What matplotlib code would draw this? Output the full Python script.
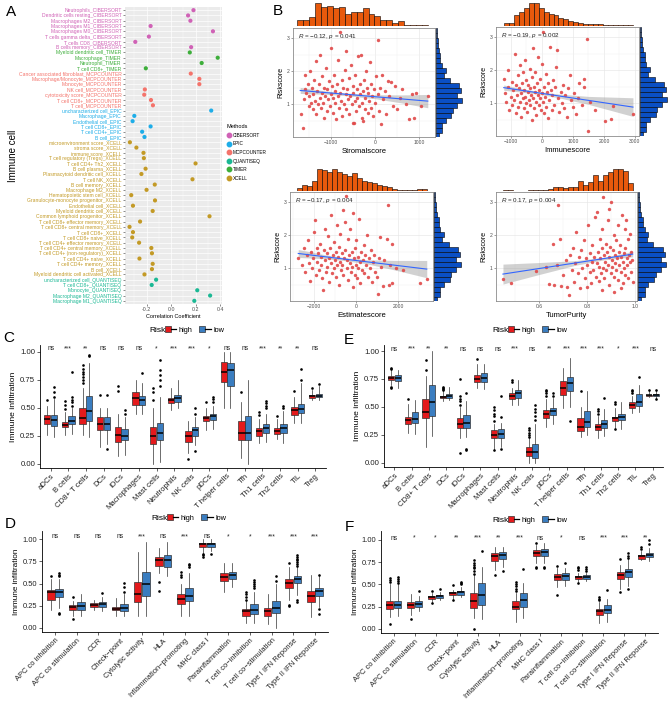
import numpy as np
import matplotlib
matplotlib.use("Agg")
import matplotlib.pyplot as plt
from matplotlib.lines import Line2D
from matplotlib.patches import Patch
from matplotlib.legend_handler import HandlerTuple
from matplotlib.ticker import AutoMinorLocator

plt.rcParams.update({
    "font.family": ["Liberation Sans", "DejaVu Sans"],
    "mathtext.fontset": "custom",
    "mathtext.rm": "Liberation Sans",
    "mathtext.it": "Liberation Sans:italic",
})

W, H = 669, 708
RED, BLUE = "#E41A1C", "#3A7DC0"

# ── A: correlation of risk score with immune cells ──
A_CELLS = [
    "Neutrophils_CIBERSORT", "Dendritic cells resting_CIBERSORT", "Macrophages M2_CIBERSORT",
    "Macrophages M1_CIBERSORT", "Macrophages M0_CIBERSORT", "T cells gamma delta_CIBERSORT",
    "T cells CD8_CIBERSORT", "B cells memory_CIBERSORT", "Myeloid dendritic cell_TIMER",
    "Macrophage_TIMER", "Neutrophil_TIMER", "T cell CD8+_TIMER",
    "Cancer associated fibroblast_MCPCOUNTER", "Macrophage/Monocyte_MCPCOUNTER",
    "Monocyte_MCPCOUNTER", "NK cell_MCPCOUNTER", "cytotoxicity score_MCPCOUNTER",
    "T cell CD8+_MCPCOUNTER", "T cell_MCPCOUNTER", "uncharacterized cell_EPIC",
    "Macrophage_EPIC", "Endothelial cell_EPIC", "T cell CD8+_EPIC", "T cell CD4+_EPIC",
    "B cell_EPIC", "microenvironment score_XCELL", "stroma score_XCELL", "immune score_XCELL",
    "T cell regulatory (Tregs)_XCELL", "T cell CD4+ Th2_XCELL", "B cell plasma_XCELL",
    "Plasmacytoid dendritic cell_XCELL", "T cell NK_XCELL", "B cell memory_XCELL",
    "Macrophage M2_XCELL", "Hematopoietic stem cell_XCELL",
    "Granulocyte-monocyte progenitor_XCELL", "Endothelial cell_XCELL",
    "Myeloid dendritic cell_XCELL", "Common lymphoid progenitor_XCELL",
    "T cell CD8+ effector memory_XCELL", "T cell CD8+ central memory_XCELL",
    "T cell CD8+_XCELL", "T cell CD8+ naive_XCELL", "T cell CD4+ effector memory_XCELL",
    "T cell CD4+ central memory_XCELL", "T cell CD4+ (non-regulatory)_XCELL",
    "T cell CD4+ naive_XCELL", "T cell CD4+ memory_XCELL", "B cell_XCELL",
    "Myeloid dendritic cell activated_XCELL", "uncharacterized cell_QUANTISEQ",
    "T cell CD8+_QUANTISEQ", "Monocyte_QUANTISEQ", "Macrophage M2_QUANTISEQ",
    "Macrophage M1_QUANTISEQ",
]
A_COEF = [
    0.183, 0.139, 0.158, -0.167, 0.342, -0.181, -0.292, 0.164, 0.153, 0.381, 0.25, -0.206,
    0.161, 0.231, 0.231, -0.214, -0.219, -0.164, -0.148, 0.328, -0.30, -0.314, -0.167,
    -0.236, -0.217, -0.336, -0.283, -0.225, -0.222, 0.20, -0.208, -0.242, 0.175, -0.133,
    -0.20, -0.325, -0.131, -0.311, -0.15, 0.314, -0.253, -0.339, -0.311, -0.317, -0.261,
    -0.161, -0.156, -0.258, -0.15, -0.156, -0.217, -0.122, -0.158, 0.214, 0.319, 0.19,
]
METHODS = ["CIBERSORT", "EPIC", "MCPCOUNTER", "QUANTISEQ", "TIMER", "XCELL"]
METHOD_COLORS = ["#D062B6", "#1EADE8", "#F4736B", "#1BB894", "#3DAE3A", "#C39A26"]

# ── B: scatter data (x score, Riskscore) ──
STROMAL_PTS = [
    (-1680, 0.72), (-1640, 0.30), (-1620, 1.15), (-1600, 1.45), (-1580, 1.9), (-1560, 1.35),
    (-1530, 1.6), (-1500, 0.95), (-1490, 1.25), (-1470, 2.0), (-1450, 1.05), (-1430, 1.5),
    (-1420, 0.85), (-1400, 1.3), (-1380, 1.75), (-1360, 1.1), (-1350, 2.3), (-1330, 0.7),
    (-1310, 1.4), (-1300, 1.0), (-1280, 1.6), (-1260, 1.2), (-1250, 2.5), (-1230, 0.9),
    (-1210, 1.35), (-1200, 1.85), (-1180, 1.05), (-1160, 0.6), (-1150, 1.5), (-1130, 1.25),
    (-1110, 2.1), (-1100, 0.8), (-1080, 1.45), (-1060, 1.15), (-1050, 1.7), (-1030, 0.95),
    (-1010, 1.3), (-1000, 2.7), (-980, 1.55), (-960, 0.75), (-950, 1.2), (-930, 1.9),
    (-910, 1.05), (-900, 1.4), (-880, 0.55), (-860, 1.6), (-850, 1.25), (-830, 2.35),
    (-810, 0.9), (-800, 3.19), (-790, 1.35), (-770, 1.1), (-760, 1.75), (-740, 0.65),
    (-720, 1.5), (-700, 1.0), (-690, 2.05), (-670, 1.3), (-660, 2.6), (-650, 0.85),
    (-630, 1.45), (-610, 1.15), (-600, 1.8), (-580, 0.7), (-560, 1.25), (-550, 2.2),
    (-530, 1.0), (-510, 1.55), (-500, 0.45), (-490, 1.35), (-470, 0.44), (-460, 1.9),
    (-450, 1.1), (-430, 0.8), (-410, 1.45), (-400, 1.2), (-380, 2.45), (-370, 0.95),
    (-350, 1.6), (-330, 1.3), (-320, 2.5), (-300, 0.6), (-290, 1.05), (-280, 0.5),
    (-270, 1.4), (-250, 1.75), (-230, 0.85), (-220, 1.2), (-200, 2.0), (-190, 1.5),
    (-170, 0.75), (-150, 1.35), (-130, 1.1), (-110, 2.27), (-100, 0.9), (-80, 1.6),
    (-60, 1.25), (-40, 0.65), (-20, 1.45), (0, 1.05), (30, 1.85), (60, 1.3), (70, 2.94),
    (90, 0.8), (120, 1.5), (140, 0.4), (170, 1.9), (190, 1.15), (220, 1.4), (250, 0.7),
    (290, 1.72), (320, 1.25), (360, 1.66), (400, 0.95), (450, 1.55), (510, 0.86),
    (560, 1.2), (620, 1.45), (700, 1.0), (780, 0.55), (850, 1.3), (890, 0.58), (930, 1.35),
    (1050, 0.95), (1200, 1.25),
]
IMMUNE_PTS = [
    (-1230, 1.73), (-1200, 1.3), (-1150, 1.05), (-1100, 2.0), (-1080, 1.5), (-1050, 0.8),
    (-1000, 1.2), (-980, 1.65), (-950, 0.95), (-920, 1.4), (-900, 1.1), (-870, 2.48),
    (-850, 0.7), (-830, 1.55), (-800, 1.25), (-780, 1.85), (-760, 0.9), (-740, 1.45),
    (-720, 1.05), (-700, 2.15), (-680, 1.3), (-660, 0.6), (-640, 1.6), (-620, 1.15),
    (-600, 1.95), (-590, 0.85), (-570, 1.4), (-550, 1.2), (-530, 2.3), (-510, 1.0),
    (-500, 1.7), (-480, 0.75), (-460, 1.35), (-440, 1.55), (-420, 1.1), (-400, 2.05),
    (-390, 0.95), (-370, 1.45), (-350, 1.25), (-330, 0.5), (-320, 1.8), (-300, 2.67),
    (-290, 1.15), (-270, 1.5), (-250, 0.85), (-230, 1.35), (-210, 1.95), (-200, 1.05),
    (-180, 0.65), (-160, 1.6), (-140, 1.25), (-120, 2.4), (-100, 0.95), (-90, 1.4),
    (-70, 1.15), (-50, 1.75), (-30, 0.8), (-10, 1.3), (0, 2.2), (30, 3.15), (40, 1.05),
    (60, 1.5), (80, 0.7), (100, 1.2), (120, 1.9), (140, 0.9), (160, 1.35), (190, 0.55),
    (210, 1.6), (240, 1.1), (260, 2.7), (290, 1.4), (310, 0.8), (340, 1.25), (370, 1.7),
    (400, 0.95), (430, 1.5), (460, 2.1), (500, 2.6), (520, 1.15), (560, 0.75), (600, 1.35),
    (640, 1.0), (680, 1.55), (720, 0.85), (760, 1.25), (800, 0.6), (850, 1.45), (900, 1.85),
    (950, 1.1), (1000, 0.9), (1050, 1.3), (1100, 0.68), (1150, 1.15), (1200, 1.6),
    (1300, 0.95), (1350, 1.75), (1360, 1.5), (1450, 2.94), (1480, 0.18), (1550, 1.05),
    (1700, 0.8), (2030, 0.46), (2240, 0.53), (2300, 0.92), (2935, 0.67),
]
ESTIMATE_PTS = [
    (-2750, 1.3), (-2590, 1.1), (-2500, 1.6), (-2420, 0.9), (-2350, 1.4), (-2300, 1.85),
    (-2250, 1.15), (-2200, 0.62), (-2150, 1.5), (-2100, 1.0), (-2050, 1.3), (-2000, 2.1),
    (-1950, 2.47), (-1920, 0.8), (-1880, 1.6), (-1850, 1.2), (-1800, 1.45), (-1760, 0.95),
    (-1720, 1.75), (-1680, 1.1), (-1650, 1.35), (-1600, 0.7), (-1570, 0.36), (-1540, 1.55),
    (-1500, 1.25), (-1470, 2.2), (-1440, 0.9), (-1400, 1.45), (-1370, 1.05), (-1330, 1.98),
    (-1300, 1.3), (-1270, 0.6), (-1240, 1.6), (-1200, 1.15), (-1170, 2.6), (-1140, 0.85),
    (-1100, 1.4), (-1070, 1.0), (-1040, 1.8), (-1000, 1.25), (-970, 0.75), (-940, 1.5),
    (-920, 2.32), (-890, 1.1), (-860, 1.35), (-830, 0.5), (-800, 1.65), (-770, 1.2),
    (-740, 2.05), (-710, 0.95), (-680, 1.45), (-650, 1.1), (-620, 2.75), (-600, 0.8),
    (-570, 1.3), (-540, 2.4), (-510, 1.55), (-476, 3.18), (-450, 1.0), (-420, 1.25),
    (-390, 1.9), (-360, 0.65), (-330, 1.4), (-300, 1.15), (-270, 2.2), (-240, 0.9),
    (-210, 1.5), (-180, 1.05), (-150, 0.45), (-127, 2.67), (-100, 1.3), (-70, 0.8),
    (-40, 1.6), (-10, 1.1), (20, 1.85), (50, 0.7), (80, 1.35), (110, 1.0), (140, 2.5),
    (170, 1.2), (200, 0.55), (240, 1.5), (280, 0.95), (320, 1.25), (360, 1.7), (400, 0.85),
    (440, 1.4), (480, 1.1), (520, 2.0), (560, 0.75), (600, 1.3), (650, 1.0), (700, 1.55),
    (760, 0.6), (800, 1.2), (850, 1.4), (900, 0.9), (980, 0.75), (1060, 0.22), (1100, 1.3),
    (1140, 1.95), (1200, 1.05), (1300, 0.47), (1350, 1.25), (1460, 1.88), (1520, 2.9),
    (1550, 0.51), (1600, 1.1), (1700, 0.57), (1700, 1.74), (1900, 1.0), (2250, 0.95),
    (3050, 0.57), (3370, 0.68),
]
PURITY_PTS = [
    (0.449, 0.68), (0.482, 0.56), (0.587, 0.92), (0.63, 1.05), (0.64, 0.52), (0.657, 1.73),
    (0.66, 0.5), (0.673, 1.1), (0.68, 2.9), (0.687, 1.9), (0.69, 0.48), (0.70, 0.8),
    (0.71, 1.25), (0.715, 0.45), (0.725, 0.21), (0.73, 1.4), (0.735, 0.95), (0.74, 1.6),
    (0.745, 0.6), (0.75, 1.15), (0.755, 2.1), (0.76, 0.85), (0.765, 1.35), (0.77, 0.4),
    (0.775, 1.55), (0.78, 1.0), (0.785, 1.85), (0.79, 0.7), (0.795, 1.3), (0.80, 1.1),
    (0.805, 2.3), (0.81, 0.9), (0.812, 1.45), (0.815, 0.55), (0.82, 1.2), (0.822, 1.7),
    (0.825, 0.95), (0.83, 1.35), (0.832, 2.55), (0.835, 0.75), (0.84, 2.7), (0.842, 1.15),
    (0.845, 1.5), (0.848, 0.62), (0.85, 1.05), (0.852, 1.9), (0.855, 1.3), (0.858, 0.85),
    (0.86, 1.6), (0.862, 2.2), (0.865, 1.0), (0.868, 3.16), (0.87, 1.4), (0.872, 0.7),
    (0.875, 1.2), (0.878, 1.75), (0.88, 0.95), (0.882, 1.5), (0.885, 2.45), (0.888, 1.1),
    (0.89, 0.5), (0.892, 1.35), (0.895, 1.65), (0.898, 0.85), (0.90, 3.0), (0.902, 1.25),
    (0.905, 1.05), (0.908, 1.55), (0.91, 2.0), (0.912, 0.75), (0.915, 1.4), (0.918, 1.15),
    (0.92, 1.85), (0.922, 0.95), (0.925, 1.3), (0.928, 2.3), (0.93, 0.65), (0.932, 1.5),
    (0.935, 1.1), (0.938, 1.7), (0.94, 0.9), (0.942, 1.35), (0.945, 2.6), (0.948, 1.2),
    (0.95, 0.55), (0.952, 1.45), (0.955, 1.0), (0.958, 1.6), (0.96, 0.8), (0.962, 2.47),
    (0.965, 1.3), (0.968, 1.1), (0.97, 1.9), (0.972, 0.7), (0.975, 1.4), (0.978, 1.2),
    (0.98, 2.05), (0.982, 0.9), (0.985, 1.5), (0.988, 1.25), (0.99, 0.6), (0.86, 0.35),
    (0.91, 0.3), (0.89, 2.8), (0.96, 2.2), (0.80, 0.45), (0.94, 0.4),
]
# marginal histogram counts (top: x score, right: Riskscore 0–3.3 in 0.15 bins)
STROMAL_HIST = [7, 8, 11, 28, 24, 25, 22, 24, 15, 17, 18, 22, 15, 13, 7, 7, 4, 6, 1, 1, 1, 1]
IMMUNE_HIST = [4, 4, 15, 19, 24, 30, 30, 24, 19, 16, 15, 11, 9, 6, 5, 4, 2, 2, 2, 2, 1, 1, 1, 1, 1, 1]
ESTIMATE_HIST = [4, 8, 6, 13, 28, 27, 25, 28, 25, 22, 19, 23, 17, 13, 12, 10, 8, 6, 5, 3, 1, 1, 1, 1, 2, 2]
PURITY_HIST = [1, 1, 0, 0, 0, 1, 1, 2, 2, 3, 5, 5, 4, 5, 6, 14, 9, 13, 22, 14, 22, 26, 30, 30, 28, 11]
RISK_HIST = [3, 7, 7, 11, 17, 19, 24, 30, 24, 28, 26, 16, 9, 11, 7, 5, 5, 3, 2, 2, 1, 1]

# fitted lines and 95% bands
STROMAL_FIT = ([-1700, 1200], [1.42, 1.10])
STROMAL_BAND = ([-1700, -1100, -600, 0, 600, 1200], [0.09, 0.05, 0.04, 0.06, 0.12, 0.2])
IMMUNE_FIT = ([-1230, 2935], [1.475, 0.89])
IMMUNE_BAND = ([-1230, -600, 0, 600, 1500, 2935], [0.08, 0.05, 0.04, 0.06, 0.12, 0.28])
ESTIMATE_FIT = ([-2750, 3370], [1.45, 0.98])
ESTIMATE_BAND = ([-2750, -1500, -600, 500, 1800, 3370], [0.12, 0.06, 0.045, 0.06, 0.14, 0.26])
PURITY_FIT = ([0.449, 0.99], [0.83, 1.43])
PURITY_BAND = ([0.449, 0.6, 0.75, 0.87, 0.99], [0.3, 0.18, 0.07, 0.04, 0.08])

# ── C / E: immune cells; D / F: immune functions ──
CELL_CATS = ["aDCs", "B cells", "CD8+ T cells", "DCs", "iDCs", "Macrophages", "Mast cells",
             "Neutrophils", "NK cells", "pDCs", "T helper cells", "Tfh", "Th1 cells",
             "Th2 cells", "TIL", "Treg"]
FUNC_CATS = ["APC co inhibition", "APC co stimulation", "CCR", "Check\u2212point",
             "Cytolytic activity", "HLA", "Inflammation\u2212promoting", "MHC class I",
             "Parainflammation", "T cell co\u2212inhibition", "T cell co\u2212stimulation",
             "Type I IFN Reponse", "Type II IFN Reponse"]

C_HIGH = dict(
    lo=[0.26, 0.26, 0.26, 0.155, 0.075, 0.45, 0.0, 0.48, 0.095, 0.30, 0.5, 0.05, 0.185, 0.22, 0.365, 0.57],
    q1=[0.355, 0.33, 0.36, 0.30, 0.20, 0.527, 0.18, 0.54, 0.20, 0.386, 0.735, 0.21, 0.25, 0.27, 0.44, 0.59],
    med=[0.405, 0.35, 0.41, 0.357, 0.259, 0.592, 0.25, 0.57, 0.25, 0.41, 0.82, 0.28, 0.29, 0.295, 0.482, 0.61],
    q3=[0.44, 0.378, 0.496, 0.42, 0.33, 0.646, 0.333, 0.59, 0.29, 0.43, 0.913, 0.38, 0.318, 0.318, 0.51, 0.62],
    hi=[0.52, 0.46, 0.68, 0.5, 0.45, 0.75, 0.5, 0.68, 0.38, 0.5, 1.0, 0.55, 0.4, 0.4, 0.6, 0.66],
)
C_HIGH_OUT = [[0.57], [0.49, 0.53, 0.56], [0.72, 0.75, 0.78, 0.8, 0.82, 0.85, 0.88], [0.62],
              [0.65, 0.7], [], [0.57, 0.64, 0.68], [], [0.04], [0.55], [], [0.64], [0.44, 0.46],
              [0.43], [0.65], [0.68]]
C_LOW = dict(
    lo=[0.24, 0.27, 0.24, 0.18, 0.08, 0.45, 0.02, 0.5, 0.17, 0.31, 0.5, 0.0, 0.2, 0.185, 0.37, 0.57],
    q1=[0.34, 0.36, 0.38, 0.30, 0.21, 0.527, 0.214, 0.55, 0.25, 0.39, 0.70, 0.21, 0.274, 0.274, 0.452, 0.595],
    med=[0.395, 0.386, 0.47, 0.357, 0.25, 0.57, 0.28, 0.59, 0.30, 0.43, 0.835, 0.28, 0.318, 0.32, 0.495, 0.61],
    q3=[0.44, 0.43, 0.61, 0.42, 0.31, 0.61, 0.363, 0.62, 0.33, 0.45, 0.9, 0.43, 0.357, 0.357, 0.535, 0.625],
    hi=[0.58, 0.5, 0.9, 0.5, 0.42, 0.72, 0.6, 0.75, 0.42, 0.52, 1.0, 0.75, 0.45, 0.47, 0.72, 0.7],
)
C_LOW_OUT = [[0.6, 0.64, 0.69], [0.52, 0.55, 0.57, 0.6, 0.82], [0.96, 0.97], [0.13, 0.62],
             [0.45, 0.48], [0.81], [0.7, 0.75, 0.79, 0.84, 0.93], [], [0.115, 0.45, 0.5],
             [0.55, 0.58, 0.6], [], [], [0.5, 0.52, 0.54, 0.56], [0.5, 0.52], [0.75, 0.85], [0.71]]
C_SIG = ["ns", "***", "**", "ns", "ns", "ns", "*", "***", "***", "*", "ns", "ns", "***", "**", "**", "ns"]

D_HIGH = dict(
    lo=[0.205, 0.14, 0.2, 0.13, 0.14, 0.615, 0.14, 0.84, 0.41, 0.055, 0.05, 0.31, 0.12],
    q1=[0.32, 0.205, 0.24, 0.198, 0.29, 0.70, 0.27, 0.915, 0.533, 0.14, 0.14, 0.455, 0.29],
    med=[0.40, 0.235, 0.26, 0.215, 0.385, 0.765, 0.33, 0.94, 0.575, 0.193, 0.196, 0.51, 0.36],
    q3=[0.43, 0.26, 0.28, 0.24, 0.52, 0.80, 0.38, 0.95, 0.614, 0.212, 0.23, 0.55, 0.418],
    hi=[0.55, 0.3, 0.32, 0.34, 0.85, 0.9, 0.5, 1.0, 0.73, 0.3, 0.38, 0.68, 0.6],
)
D_HIGH_OUT = [[0.585], [0.1, 0.35], [], [], [], [0.42, 0.52], [0.575, 0.6, 0.63], [0.8, 0.82, 0.83],
              [], [0.32, 0.35, 0.38, 0.41], [], [0.25, 0.26, 0.73], []]
D_LOW = dict(
    lo=[0.22, 0.13, 0.19, 0.14, 0.14, 0.58, 0.13, 0.86, 0.46, 0.06, 0.0, 0.37, 0.24],
    q1=[0.346, 0.20, 0.24, 0.195, 0.365, 0.683, 0.305, 0.915, 0.55, 0.16, 0.167, 0.505, 0.365],
    med=[0.40, 0.25, 0.27, 0.23, 0.49, 0.765, 0.365, 0.94, 0.6, 0.205, 0.224, 0.548, 0.418],
    q3=[0.436, 0.29, 0.293, 0.27, 0.63, 0.82, 0.455, 0.96, 0.63, 0.27, 0.30, 0.585, 0.447],
    hi=[0.55, 0.38, 0.35, 0.38, 0.97, 0.97, 0.62, 1.0, 0.735, 0.4, 0.5, 0.68, 0.585],
)
D_LOW_OUT = [[0.16, 0.17, 0.58, 0.6, 0.62], [], [0.39], [0.41, 0.46, 0.51], [], [], [0.68, 0.71, 0.72],
             [0.83], [], [0.45, 0.47, 0.5, 0.52, 0.54], [0.53, 0.58],
             [0.29, 0.32, 0.7, 0.72, 0.74, 0.76, 0.78, 0.8, 0.82], [0.16, 0.21, 0.59]]
D_SIG = ["ns", "ns", "ns", "ns", "***", "ns", "***", "ns", "*", "*", "***", "***", "***"]

E_HIGH = dict(
    lo=[0.70, 0.27, 0.14, 0.555, 0.22, 0.665, 0.115, 0.52, 0.0, 0.32, 0.49, 0.233, 0.22, 0.308, 0.448, 0.59],
    q1=[0.74, 0.343, 0.397, 0.583, 0.313, 0.725, 0.22, 0.573, 0.06, 0.405, 0.605, 0.283, 0.292, 0.376, 0.49, 0.597],
    med=[0.755, 0.38, 0.457, 0.59, 0.35, 0.75, 0.248, 0.597, 0.1, 0.44, 0.665, 0.322, 0.322, 0.397, 0.516, 0.605],
    q3=[0.776, 0.41, 0.57, 0.60, 0.405, 0.785, 0.29, 0.62, 0.145, 0.47, 0.73, 0.397, 0.343, 0.41, 0.54, 0.61],
    hi=[0.83, 0.53, 0.78, 0.64, 0.5, 0.88, 0.35, 0.67, 0.22, 0.57, 0.85, 0.5, 0.42, 0.49, 0.6, 0.64],
)
E_HIGH_OUT = [[0.67, 0.68, 0.84, 0.85], [0.57], [0.83, 0.92], [0.65, 0.66, 0.67, 0.68],
              [0.085, 0.52, 0.55, 0.57, 0.6, 0.75], [0.93], [0.11, 0.37, 0.42, 0.44, 0.47, 0.5],
              [0.72, 0.74], [0.23, 0.25, 0.27, 0.29, 0.31], [0.6, 0.62, 0.64, 0.65], [], [0.64],
              [0.44, 0.46, 0.48], [0.3, 0.53, 0.54], [0.62, 0.64, 0.65], [0.65]]
E_LOW = dict(
    lo=[0.665, 0.26, 0.24, 0.56, 0.227, 0.656, 0.14, 0.515, 0.0, 0.35, 0.5, 0.248, 0.235, 0.3, 0.457, 0.575],
    q1=[0.735, 0.358, 0.418, 0.583, 0.313, 0.72, 0.225, 0.583, 0.047, 0.426, 0.64, 0.322, 0.313, 0.38, 0.507, 0.597],
    med=[0.76, 0.396, 0.54, 0.60, 0.357, 0.763, 0.26, 0.62, 0.1, 0.46, 0.716, 0.367, 0.35, 0.41, 0.546, 0.605],
    q3=[0.785, 0.45, 0.70, 0.611, 0.426, 0.8, 0.305, 0.65, 0.165, 0.49, 0.77, 0.46, 0.387, 0.435, 0.611, 0.611],
    hi=[0.826, 0.56, 1.0, 0.68, 0.55, 0.88, 0.36, 0.74, 0.35, 0.58, 0.94, 0.64, 0.48, 0.54, 0.7, 0.64],
)
E_LOW_OUT = [[], [], [], [], [0.11, 0.12, 0.62], [], [0.12, 0.41, 0.6], [], [0.38, 0.42, 0.45, 0.48, 0.52],
             [0.6, 0.62], [0.37], [], [0.58], [], [0.77], [0.57, 0.65]]
E_SIG = ["ns", "***", "**", "**", "ns", "ns", "ns", "***", "ns", "**", "***", "***", "***", "*", "***", "ns"]

F_HIGH = dict(
    lo=[0.13, 0.157, 0.3, 0.34, 0.12, 0.66, 0.08, 0.74, 0.47, 0.53, 0.064, 0.45, 0.77],
    q1=[0.225, 0.232, 0.334, 0.375, 0.232, 0.757, 0.22, 0.82, 0.544, 0.56, 0.15, 0.56, 0.787],
    med=[0.263, 0.263, 0.356, 0.4, 0.307, 0.814, 0.25, 0.858, 0.578, 0.578, 0.195, 0.6, 0.814],
    q3=[0.315, 0.296, 0.371, 0.416, 0.4, 0.85, 0.307, 0.89, 0.614, 0.596, 0.225, 0.633, 0.832],
    hi=[0.5, 0.39, 0.4, 0.44, 0.6, 0.92, 0.4, 0.94, 0.68, 0.63, 0.3, 0.72, 0.88],
)
F_HIGH_OUT = [[0.05, 0.53, 0.55, 0.57], [0.11], [0.29, 0.43], [0.32, 0.49],
              [0.0, 0.62, 0.65, 0.68, 0.7, 0.72, 0.74, 0.77], [0.61], [0.42, 0.45, 0.48, 0.5, 0.53],
              [0.68, 0.7, 0.97], [0.38, 0.71], [0.51, 0.66, 0.68, 0.7], [0.32, 0.34, 0.36],
              [0.41, 0.78], [0.9, 0.92]]
F_LOW = dict(
    lo=[0.14, 0.195, 0.32, 0.36, 0.11, 0.7, 0.12, 0.74, 0.48, 0.54, 0.08, 0.48, 0.76],
    q1=[0.232, 0.25, 0.345, 0.382, 0.27, 0.787, 0.25, 0.82, 0.55, 0.563, 0.176, 0.58, 0.802],
    med=[0.27, 0.277, 0.364, 0.41, 0.382, 0.833, 0.326, 0.862, 0.596, 0.585, 0.214, 0.633, 0.832],
    q3=[0.307, 0.307, 0.382, 0.423, 0.514, 0.86, 0.4, 0.895, 0.626, 0.604, 0.27, 0.67, 0.858],
    hi=[0.5, 0.37, 0.41, 0.47, 0.69, 0.92, 0.52, 0.97, 0.68, 0.63, 0.33, 0.78, 0.91],
)
F_LOW_OUT = [[0.52, 0.54, 0.56, 0.58], [0.42], [0.45], [0.5, 0.52, 0.53], [0.88], [0.65], [0.67],
             [0.68, 0.7], [0.74], [0.65, 0.67, 0.69], [0.44], [0.45, 0.8, 0.82, 0.85], [0.95, 1.0]]
F_SIG = ["ns", "*", "*", "**", "***", "**", "***", "ns", "*", "ns", "***", "***", "**"]


fig = plt.figure(figsize=(W / 100, H / 100), dpi=100)


def px_axes(left, top, right, bottom):
    """axes placed by pixel box of the 669x708 canvas"""
    return fig.add_axes([left / W, 1 - bottom / H, (right - left) / W, (bottom - top) / H])


def letter(x, y, s):
    fig.text(x / W, 1 - y / H, s, fontsize=11, ha="center", va="center")


# ================================================================
# A
# ================================================================
ax = px_axes(125, 7, 222, 304)
ax.set_facecolor("#EBEBEB")
rows = np.arange(len(A_CELLS))
method_of = [c.rsplit("_", 1)[1] for c in A_CELLS]
cmap = dict(zip(METHODS, METHOD_COLORS))
ax.scatter(A_COEF, rows, s=9, c=[cmap[m] for m in method_of], linewidths=0, zorder=3)
ax.set_ylim(len(A_CELLS) - 0.4, -0.6)
ax.set_xlim(-0.376, 0.416)
ax.set_yticks(rows)
ax.set_yticklabels(A_CELLS, fontsize=3.6)
for lab, m in zip(ax.get_yticklabels(), method_of):
    lab.set_color(cmap[m])
ax.set_xticks([-0.2, 0.0, 0.2, 0.4])
ax.set_xticklabels(["-0.2", "0.0", "0.2", "0.4"], fontsize=3.8, color="#4D4D4D")
ax.xaxis.set_minor_locator(AutoMinorLocator(2))
ax.grid(True, which="major", color="white", lw=0.5)
ax.grid(True, which="minor", axis="x", color="white", lw=0.25)
ax.set_axisbelow(True)
for s in ax.spines.values():
    s.set_visible(False)
ax.tick_params(length=1.5, width=0.4, color="#333333", pad=1)
ax.tick_params(which="minor", length=0)
ax.set_xlabel("Correlation Coefficient", fontsize=4, labelpad=1)
ax.set_ylabel("Immune cell", fontsize=7)
ax.yaxis.set_label_coords(-1.10, 0.5)
handles = [Line2D([0], [0], marker="o", ls="", color=c, markersize=3.2) for c in METHOD_COLORS]
leg = ax.legend(handles, METHODS, title="Methods", loc="upper left",
                bbox_to_anchor=(224 / W, 1 - 122 / H), bbox_transform=fig.transFigure,
                frameon=False, fontsize=3.4, title_fontsize=4, labelspacing=0.75,
                handletextpad=0.2, handlelength=1.2, borderpad=0)
leg._legend_box.align = "left"
letter(11, 12, "A")


# ================================================================
# B
# ================================================================
def scatter_panel(box, top_box, right_box, pts, xlim, xticks, xticklabels, xlabel,
                  fit, band, top_counts, top_range, stat):
    l, t, r, b = box
    ylim = (0.02, 3.3)
    ax = px_axes(l, t, r, b)
    xs = [p[0] for p in pts]
    ys = [p[1] for p in pts]
    bx = np.array(band[0], dtype=float)
    bhw = np.array(band[1])
    mid = np.interp(bx, fit[0], fit[1])
    ax.fill_between(bx, mid - bhw, mid + bhw, color="#9A9A9A", alpha=0.45, lw=0, zorder=2)
    ax.scatter(xs, ys, s=6, color="#E04848", alpha=0.9, linewidths=0, zorder=3)
    ax.plot(fit[0], fit[1], color="#3366FF", lw=0.8, zorder=4)
    ax.set_xlim(xlim)
    ax.set_ylim(ylim)
    ax.set_xticks(xticks)
    ax.set_xticklabels(xticklabels)
    ax.set_yticks([1, 2, 3])
    ax.xaxis.set_minor_locator(AutoMinorLocator(2))
    ax.yaxis.set_minor_locator(AutoMinorLocator(2))
    ax.grid(True, which="major", color="#E6E6E6", lw=0.45)
    ax.grid(True, which="minor", color="#F0F0F0", lw=0.3)
    ax.set_axisbelow(True)
    for s in ax.spines.values():
        s.set_color("#8C8C8C")
        s.set_linewidth(0.6)
    ax.tick_params(labelsize=3.6, length=1.5, width=0.4, color="#555555",
                   labelcolor="#4D4D4D", pad=1)
    ax.tick_params(which="minor", length=0)
    ax.set_xlabel(xlabel, fontsize=5.5, labelpad=1.5)
    ax.set_ylabel("Riskscore", fontsize=5, labelpad=2)
    ax.text(0.035, 0.925, stat, transform=ax.transAxes, fontsize=4.5, va="center", ha="left",
            color="#222222")

    # marginal histogram on top
    at = px_axes(l, top_box[0], r, top_box[1])
    edges = np.linspace(top_range[0], top_range[1], len(top_counts) + 1)
    at.bar(edges[:-1], top_counts, width=np.diff(edges), align="edge",
           color="#E8590C", edgecolor="black", lw=0.4)
    at.set_xlim(xlim)
    at.set_ylim(0, max(top_counts) * 1.02)
    at.axis("off")

    # marginal histogram on the right
    ar = px_axes(right_box[0], t, right_box[1], b)
    redges = np.linspace(0.0, 3.3, len(RISK_HIST) + 1)
    ar.barh(redges[:-1], RISK_HIST, height=np.diff(redges), align="edge",
            color="#0A4FC4", edgecolor="black", lw=0.4)
    ar.set_ylim(ylim)
    ar.set_xlim(0, max(RISK_HIST) * 1.02)
    ar.axis("off")


MINUS = "\u2212"
scatter_panel((293, 28, 435, 137), (3, 26), (436, 463), STROMAL_PTS, (-1864, 1364),
              [-1000, 0, 1000], [MINUS + "1000", "0", "1000"], "Stromalscore",
              STROMAL_FIT, STROMAL_BAND, STROMAL_HIST, (-1770, 1205),
              r"$R$ = " + MINUS + r"0.12, $p$ = 0.041")
scatter_panel((496, 27, 639, 136), (3, 26), (640, 668), IMMUNE_PTS, (-1480, 3130),
              [-1000, 0, 1000, 2000, 3000], [MINUS + "1000", "0", "1000", "2000", "3000"],
              "Immunescore", IMMUNE_FIT, IMMUNE_BAND, IMMUNE_HIST, (-1226, 2935),
              r"$R$ = " + MINUS + r"0.19, $p$ = 0.002")
scatter_panel((290, 192, 433, 301), (169, 191), (434, 462), ESTIMATE_PTS, (-3143, 3667),
              [-2000, 0, 2000], [MINUS + "2000", "0", "2000"], "Estimatescore",
              ESTIMATE_FIT, ESTIMATE_BAND, ESTIMATE_HIST, (-2810, 3380),
              r"$R$ = " + MINUS + r"0.17, $p$ = 0.004")
scatter_panel((496, 192, 637, 301), (169, 191), (638, 667), PURITY_PTS, (0.42, 1.008),
              [0.6, 0.8, 1.0], ["0.6", "0.8", "1.0"], "TumorPurity",
              PURITY_FIT, PURITY_BAND, PURITY_HIST, (0.45, 0.992),
              r"$R$ = 0.17, $p$ = 0.004")
letter(278, 11, "B")


# ================================================================
# C - F boxplots
# ================================================================
def box_panel(box, cats, high, high_out, low, low_out, sig, ylim, sig_y, risk_xy, fs):
    l, t, r, b = box
    ax = px_axes(l, t, r, b)
    pos = np.arange(1, len(cats) + 1)
    for d, outs, off, col in ((high, high_out, -0.19, RED), (low, low_out, 0.19, BLUE)):
        stats = [dict(whislo=d["lo"][i], q1=d["q1"][i], med=d["med"][i], q3=d["q3"][i],
                      whishi=d["hi"][i], fliers=outs[i]) for i in range(len(cats))]
        ax.bxp(stats, positions=pos + off, widths=0.36, patch_artist=True, showcaps=False,
               manage_ticks=False,
               boxprops=dict(facecolor=col, edgecolor="#333333", linewidth=0.5),
               whiskerprops=dict(color="#333333", linewidth=0.5),
               medianprops=dict(color="black", linewidth=1.1),
               flierprops=dict(marker="o", markerfacecolor="black", markeredgecolor="none",
                               markersize=1.9))
    for x, s in zip(pos, sig):
        ax.text(x, sig_y, s, ha="center", va="center", fontsize=4.8, color="#222222")
    ax.set_xlim(0.4, len(cats) + 0.6)
    ax.set_ylim(ylim)
    ax.set_yticks([0, 0.25, 0.5, 0.75, 1.0])
    ax.set_yticklabels(["0.00", "0.25", "0.50", "0.75", "1.00"], fontsize=fs)
    ax.set_xticks(pos)
    ax.set_xticklabels(cats, rotation=45, ha="right", rotation_mode="anchor", fontsize=fs)
    for s in ("top", "right"):
        ax.spines[s].set_visible(False)
    for s in ("left", "bottom"):
        ax.spines[s].set_linewidth(0.6)
    ax.tick_params(length=2, width=0.5, pad=1.5, colors="#222222")
    ax.set_ylabel("Immune infiltration", fontsize=fs + 0.5, labelpad=2)

    rx, ry = risk_xy
    fig.text(rx / W, 1 - ry / H, "Risk", fontsize=6, ha="left", va="center")
    hs = [(Patch(facecolor=col, edgecolor="#333333", lw=0.5),
           Line2D([0], [0], color="black", lw=0.9)) for col in (RED, BLUE)]
    fig.legend(hs, ["high", "low"], loc="center left",
               handler_map={tuple: HandlerTuple(ndivide=None)},
               bbox_to_anchor=((rx + 16) / W, 1 - ry / H), ncol=2, frameon=False,
               fontsize=5.3, handlelength=1.5, handleheight=0.9, handletextpad=0.4,
               columnspacing=0.9, borderpad=0, borderaxespad=0)


box_panel((40, 345, 326, 468), CELL_CATS, C_HIGH, C_HIGH_OUT, C_LOW, C_LOW_OUT, C_SIG,
          (-0.036, 1.062), 1.027, (149, 330), 5.6)
box_panel((42, 531, 328, 632), FUNC_CATS, D_HIGH, D_HIGH_OUT, D_LOW, D_LOW_OUT, D_SIG,
          (-0.045, 1.09), 1.025, (151, 518), 5.4)
box_panel((384, 345, 663, 467), CELL_CATS, E_HIGH, E_HIGH_OUT, E_LOW, E_LOW_OUT, E_SIG,
          (-0.038, 1.054), 1.015, (492, 330), 5.6)
box_panel((381, 531, 658, 633), FUNC_CATS, F_HIGH, F_HIGH_OUT, F_LOW, F_LOW_OUT, F_SIG,
          (-0.048, 1.10), 1.02, (492, 520), 5.4)
letter(9, 338, "C")
letter(10, 524, "D")
letter(349, 340, "E")
letter(349, 527, "F")

fig.savefig("out.png", dpi=100)
